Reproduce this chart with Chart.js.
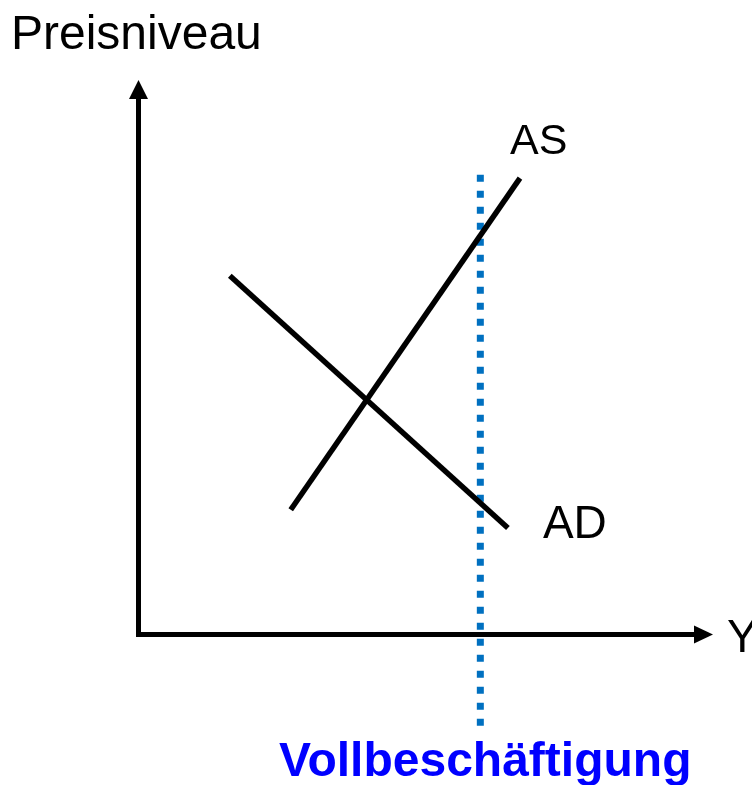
<!DOCTYPE html>
<html>
<head>
<meta charset="utf-8">
<script src="https://cdn.jsdelivr.net/npm/chart.js@4/dist/chart.umd.min.js"></script>
<style>
    body { margin: 0; background: #fff; }
    #wrap { width: 752px; height: 785px; }
</style>
</head>
<body>
<div id="wrap"><canvas id="asadChart" width="752" height="785"></canvas></div>
<script>
// Curve end points (axis units 0..100)
const adCurve = [{ x: 15.9, y: 64.7 }, { x: 64.3, y: 19.2 }];
const asCurve = [{ x: 26.5, y: 22.5 }, { x: 66.4, y: 82.3 }];
const fullEmploymentX = 59.5;
const fullEmploymentLine = [{ x: fullEmploymentX, y: 82.9 }, { x: fullEmploymentX, y: -16.5 }];

// Axis ranges and labels
const xRange = [0, 100];
const yRange = [0, 100];
const axisLabels = { x: 'Y', y: 'Preisniveau' };
const curveLabels = { as: 'AS', ad: 'AD', full: 'Vollbeschäftigung' };

// Axes with arrow heads, drawn under the curves
const axesPlugin = {
    id: 'axesArrows',
    beforeDatasetsDraw(chart) {
        const ctx = chart.ctx;
        const xs = chart.scales.x;
        const ys = chart.scales.y;
        const ox = xs.getPixelForValue(xRange[0]);
        const oy = ys.getPixelForValue(yRange[0]);
        const tipX = xs.getPixelForValue(xRange[1]);
        const tipY = ys.getPixelForValue(yRange[1]);
        const head = 19;

        ctx.save();
        ctx.strokeStyle = '#000';
        ctx.fillStyle = '#000';
        ctx.lineWidth = 5;
        ctx.lineCap = 'butt';

        ctx.beginPath();
        ctx.moveTo(ox, oy + 2.5);
        ctx.lineTo(ox, tipY + head);
        ctx.moveTo(ox - 2.5, oy);
        ctx.lineTo(tipX - head, oy);
        ctx.stroke();

        // y arrow
        ctx.beginPath();
        ctx.moveTo(ox, tipY);
        ctx.lineTo(ox - 9.5, tipY + head);
        ctx.lineTo(ox + 9.5, tipY + head);
        ctx.closePath();
        ctx.fill();

        // x arrow
        ctx.beginPath();
        ctx.moveTo(tipX, oy);
        ctx.lineTo(tipX - head, oy - 9);
        ctx.lineTo(tipX - head, oy + 9);
        ctx.closePath();
        ctx.fill();
        ctx.restore();
    },
    afterDatasetsDraw(chart) {
        const ctx = chart.ctx;
        const xs = chart.scales.x;
        const ys = chart.scales.y;
        const font = '"Liberation Sans", Arial, sans-serif';

        ctx.save();
        ctx.textAlign = 'left';
        ctx.textBaseline = 'alphabetic';
        ctx.fillStyle = '#000';

        ctx.font = '48px ' + font;
        ctx.fillText(axisLabels.y, 11, 49);

        ctx.font = '46px ' + font;
        ctx.fillText(axisLabels.x, xs.getPixelForValue(xRange[1]) + 14, ys.getPixelForValue(yRange[0]) + 17.5);

        ctx.font = '43px ' + font;
        ctx.fillText(curveLabels.as, xs.getPixelForValue(asCurve[1].x) - 10, ys.getPixelForValue(asCurve[1].y) - 24);

        ctx.font = '46px ' + font;
        ctx.fillText(curveLabels.ad, xs.getPixelForValue(adCurve[1].x) + 35, ys.getPixelForValue(adCurve[1].y) + 10);

        ctx.fillStyle = '#0000FF';
        ctx.font = 'bold 48px ' + font;
        ctx.fillText(curveLabels.full, 279, 776);
        ctx.restore();
    }
};

function initializeChart() {
    const ctx = document.getElementById('asadChart');

    const chartConfig = {
        type: 'scatter',
        data: {
            datasets: [
                {
                    label: 'AD',
                    data: adCurve,
                    showLine: true,
                    borderColor: '#000',
                    borderWidth: 5.5,
                    pointRadius: 0,
                    clip: false
                },
                {
                    label: 'AS',
                    data: asCurve,
                    showLine: true,
                    borderColor: '#000',
                    borderWidth: 5.5,
                    pointRadius: 0,
                    clip: false
                },
                {
                    label: 'Vollbeschäftigung',
                    data: fullEmploymentLine,
                    showLine: true,
                    borderColor: '#0070C0',
                    borderWidth: 7,
                    borderDash: [7, 9],
                    borderCapStyle: 'butt',
                    pointRadius: 0,
                    clip: false
                }
            ]
        },
        options: {
            responsive: false,
            animation: false,
            layout: {
                padding: { left: 138.5, right: 39, top: 80, bottom: 150.5 }
            },
            plugins: {
                legend: { display: false },
                tooltip: { enabled: false }
            },
            scales: {
                x: { type: 'linear', min: xRange[0], max: xRange[1], display: false },
                y: { type: 'linear', min: yRange[0], max: yRange[1], display: false }
            }
        },
        plugins: [axesPlugin]
    };

    window.asadChart = new Chart(ctx, chartConfig);
}

initializeChart();
</script>
</body>
</html>
